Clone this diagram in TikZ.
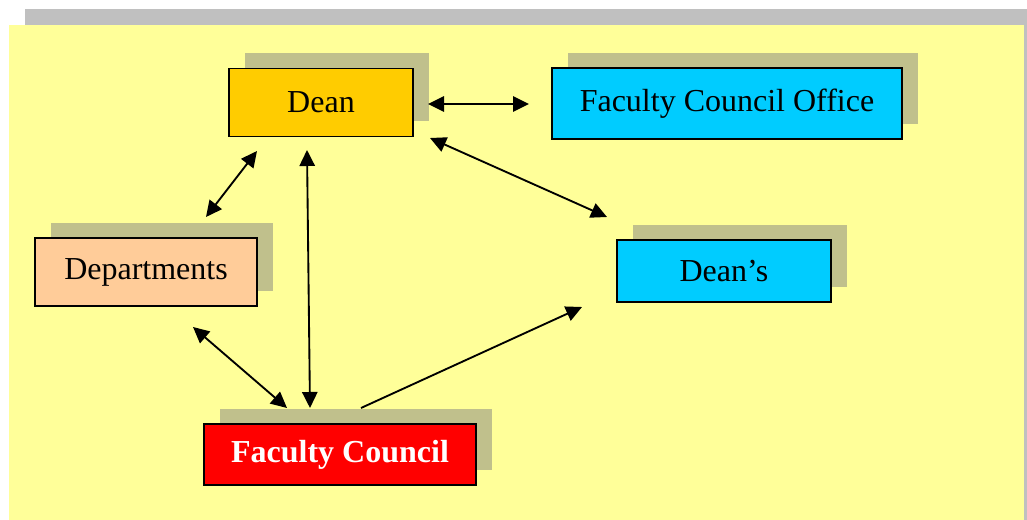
\documentclass[tikz,border=0pt]{standalone}
\usepackage{fontspec}
\setmainfont{Liberation Serif}
\usetikzlibrary{arrows.meta,shadows}
\definecolor{bgyellow}{HTML}{FFFF99}
\definecolor{bargray}{HTML}{C0C0C0}
\definecolor{shadowc}{HTML}{C0C08C}
\definecolor{deanc}{HTML}{FFCC00}
\definecolor{cyanc}{HTML}{00CCFF}
\definecolor{deptc}{HTML}{FFCC99}
\definecolor{redc}{HTML}{FF0000}
\tikzset{
  box/.style={draw=black, line width=1.1pt, inner sep=0pt,
    font=\fontsize{24}{28}\selectfont,
    general shadow={fill=shadowc, shadow xshift=12pt, shadow yshift=11.25pt}},
  link/.style={line width=1.4pt, {Triangle[length=12pt,width=11.5pt]}-{Triangle[length=12pt,width=11.5pt]}},
  onelink/.style={line width=1.4pt, -{Triangle[length=12pt,width=11.5pt]}}
}
\begin{document}
\begin{tikzpicture}[x=0.75pt,y=-0.75pt]
\useasboundingbox (0,0) rectangle (1027,520);
\fill[white] (0,0) rectangle (1027,520);
\fill[bargray] (25,9) rectangle (1027,522);
\fill[bgyellow] (9,25) rectangle (1024,522);

\node[box, fill=deanc, minimum width=138pt, minimum height=51pt] (dean) at (321,102.5) {Dean};
\node[box, fill=cyanc, minimum width=262.5pt, minimum height=53.25pt] (fco) at (727,103.5) {Faculty Council Office};
\node[box, fill=deptc, minimum width=166.5pt, minimum height=51pt] (dept) at (146,272) {Departments};
\node[box, fill=cyanc, minimum width=160.5pt, minimum height=46.5pt] (deans) at (724,271) {Dean’s};
\node[box, fill=redc, text=white, font=\fontsize{24}{28}\selectfont\bfseries, minimum width=204pt, minimum height=45.75pt] (fc) at (340,454.5) {Faculty Council};

\coordinate (dR) at (428,104);
\coordinate (fL) at (529,104);
\coordinate (dSE) at (430,138);
\coordinate (sNW) at (607,217);
\coordinate (dSW) at (257,151);
\coordinate (pNE) at (206,217);
\coordinate (dS) at (307,150);
\coordinate (cN) at (310,408);
\coordinate (pS) at (193,327);
\coordinate (cNW) at (287,408);
\coordinate (cNE) at (361,408);
\coordinate (sSW) at (582,307);

\draw[link] (dR) -- (fL);
\draw[link] (dSE) -- (sNW);
\draw[link] (dSW) -- (pNE);
\draw[link] (dS) -- (cN);
\draw[link] (pS) -- (cNW);
\draw[onelink] (cNE) -- (sSW);
\end{tikzpicture}
\end{document}
